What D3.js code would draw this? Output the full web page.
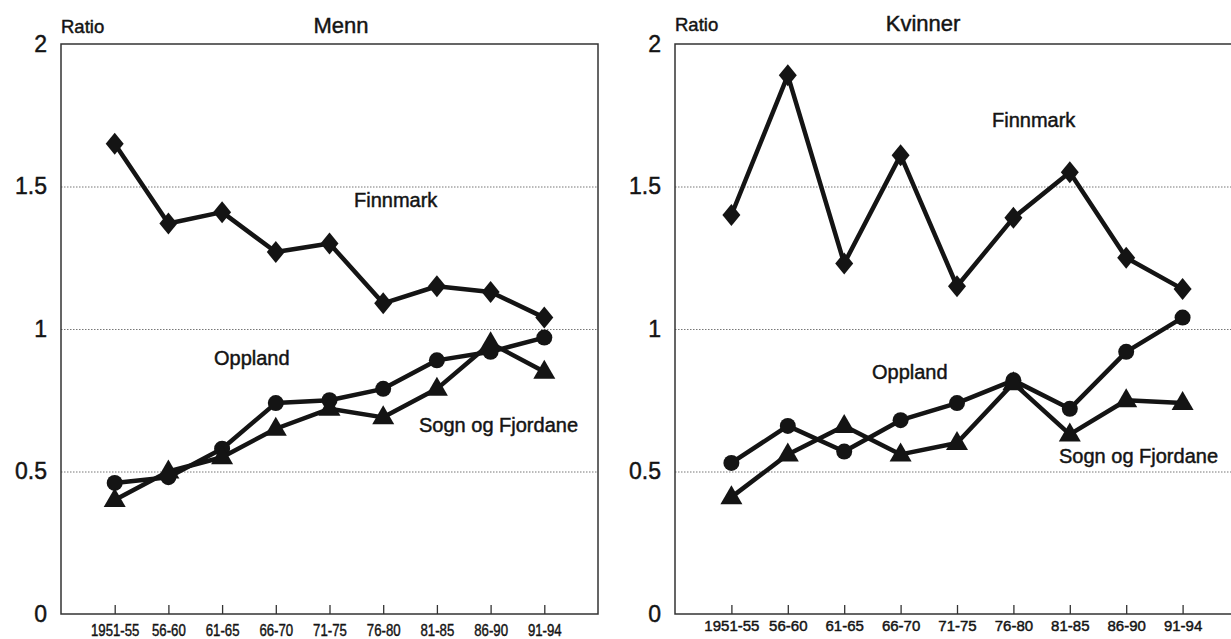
<!DOCTYPE html>
<html>
<head>
<meta charset="utf-8">
<script src="https://cdn.jsdelivr.net/npm/d3@7"></script>
<style>
  body { margin: 0; background: #fff; }
  svg { display: block; font-family: "Liberation Sans", Arial, sans-serif; }
</style>
</head>
<body>
<div id="chart"></div>
<script>
// periods on the x axis
var categories = ["1951-55", "56-60", "61-65", "66-70", "71-75", "76-80", "81-85", "86-90", "91-94"];
var yTicks = [0, 0.5, 1, 1.5, 2];

// Menn
var mennFinnmark = [1.65, 1.37, 1.41, 1.27, 1.30, 1.09, 1.15, 1.13, 1.04];
var mennOppland  = [0.46, 0.48, 0.58, 0.74, 0.75, 0.79, 0.89, 0.92, 0.97];
var mennSogn     = [0.40, 0.50, 0.55, 0.65, 0.72, 0.69, 0.79, 0.95, 0.85];

// Kvinner
var kvinnerFinnmark = [1.40, 1.89, 1.23, 1.61, 1.15, 1.39, 1.55, 1.25, 1.14];
var kvinnerOppland  = [0.53, 0.66, 0.57, 0.68, 0.74, 0.82, 0.72, 0.92, 1.04];
var kvinnerSogn     = [0.41, 0.56, 0.66, 0.56, 0.60, 0.81, 0.63, 0.75, 0.74];

var width = 1231, height = 639;
var ink = "#141414";

var svg = d3.select("#chart").append("svg")
    .attr("width", width)
    .attr("height", height);

var y = d3.scaleLinear().domain([0, 2]).range([614, 44]);

// marker shapes
var shapes = {
    diamond:  "M0,-11L9,0L0,11L-9,0Z",
    triangle: "M0,-12L11,7L-11,7Z"
};

// scanned text looks heavier, so give it a thin outline
function inked(sel) {
    sel.attr("fill", ink).attr("stroke", ink).attr("stroke-width", 0.45);
}

function drawPanel(p) {
    var x = d3.scalePoint().domain(categories).range([p.left, p.right]).padding(1);
    var g = svg.append("g");

    // dotted grid lines
    g.append("g")
        .attr("transform", "translate(" + p.left + ",0)")
        .call(d3.axisLeft(y).tickValues([0.5, 1, 1.5]).tickSize(-(p.right - p.left)).tickFormat(""))
        .call(function(a) { a.select(".domain").remove(); })
        .selectAll("line")
        .attr("stroke", "#777")
        .attr("stroke-width", 1)
        .attr("stroke-dasharray", "1.5,1.5");

    // frame
    g.append("rect")
        .attr("x", p.left).attr("y", y(2))
        .attr("width", p.right - p.left).attr("height", y(0) - y(2))
        .attr("fill", "none")
        .attr("stroke", "#333")
        .attr("stroke-width", 1.5);

    // y labels
    g.append("g")
        .attr("transform", "translate(" + p.left + ",0)")
        .call(d3.axisLeft(y).tickValues(yTicks).tickSize(0).tickPadding(14)
              .tickFormat(function(d) { return d; }))
        .call(function(a) { a.select(".domain").remove(); })
        .selectAll("text")
        .attr("font-size", 23)
        .attr("font-family", "Liberation Sans, Arial, sans-serif")
        .call(inked);

    // x axis, ticks pointing inward
    var xa = g.append("g")
        .attr("transform", "translate(0," + y(0) + ")")
        .call(d3.axisBottom(x).tickSizeInner(-9).tickSizeOuter(0).tickPadding(p.labelPad));
    xa.select(".domain").remove();
    xa.selectAll("line").attr("stroke", "#333").attr("stroke-width", 1.3);
    xa.selectAll("text")
        .attr("font-size", p.labelSize)
        .attr("font-family", "Liberation Sans, Arial, sans-serif")
        .call(inked)
        .each(function() {
            if (p.narrow) {
                var w = this.getComputedTextLength();
                this.setAttribute("textLength", w * p.narrow);
                this.setAttribute("lengthAdjust", "spacingAndGlyphs");
            }
        });

    // lines and markers
    var line = d3.line()
        .x(function(d, i) { return x(categories[i]); })
        .y(function(d) { return y(d); });

    p.series.forEach(function(s) {
        g.append("path")
            .datum(s.values)
            .attr("d", line)
            .attr("fill", "none")
            .attr("stroke", ink)
            .attr("stroke-width", 4.5)
            .attr("stroke-linejoin", "round");

        var m = g.selectAll(null).data(s.values).enter();
        if (s.marker === "circle") {
            m.append("circle")
                .attr("cx", function(d, i) { return x(categories[i]); })
                .attr("cy", function(d) { return y(d); })
                .attr("r", 8)
                .attr("fill", ink);
        } else {
            m.append("path")
                .attr("d", shapes[s.marker])
                .attr("transform", function(d, i) {
                    return "translate(" + x(categories[i]) + "," + y(d) + ")";
                })
                .attr("fill", ink);
        }
    });

    // titles and annotations
    g.append("text").attr("x", p.left).attr("y", p.titleY)
        .attr("font-size", 18.5).call(inked).text("Ratio");
    g.append("text").attr("x", p.titleX).attr("y", p.titleY)
        .attr("text-anchor", "middle").attr("font-size", 22).call(inked).text(p.title);

    p.labels.forEach(function(l) {
        g.append("text").attr("x", l.x).attr("y", l.y)
            .attr("font-size", 20).call(inked).text(l.text);
    });
}

drawPanel({
    left: 61, right: 598,
    title: "Menn", titleX: 341, titleY: 33,
    labelSize: 16.5, labelPad: 10, narrow: 0.8,
    series: [
        { values: mennFinnmark, marker: "diamond" },
        { values: mennOppland, marker: "circle" },
        { values: mennSogn, marker: "triangle" }
    ],
    labels: [
        { text: "Finnmark", x: 354, y: 207 },
        { text: "Oppland", x: 214, y: 365 },
        { text: "Sogn og Fjordane", x: 419, y: 432 }
    ]
});

drawPanel({
    left: 675, right: 1239,
    title: "Kvinner", titleX: 923, titleY: 31,
    labelSize: 15, labelPad: 6, narrow: 0,
    series: [
        { values: kvinnerFinnmark, marker: "diamond" },
        { values: kvinnerOppland, marker: "circle" },
        { values: kvinnerSogn, marker: "triangle" }
    ],
    labels: [
        { text: "Finnmark", x: 992, y: 127 },
        { text: "Oppland", x: 872, y: 379 },
        { text: "Sogn og Fjordane", x: 1059, y: 463 }
    ]
});
</script>
</body>
</html>
